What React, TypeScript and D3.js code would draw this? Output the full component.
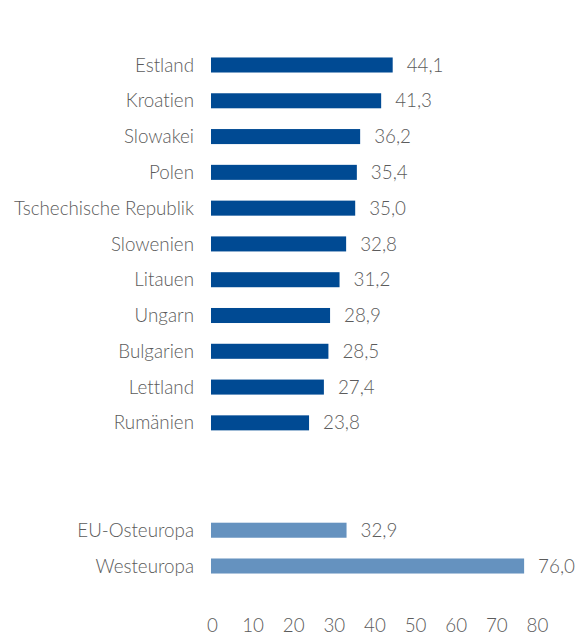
import React from "react";
import * as d3 from "d3";

const categories = [
  "Estland", "Kroatien", "Slowakei", "Polen", "Tschechische Republik", "Slowenien",
  "Litauen", "Ungarn", "Bulgarien", "Lettland", "Rumänien", "", " ", "EU-Osteuropa", "Westeuropa",
];
const values: (number | null)[] = [44.1, 41.3, 36.2, 35.4, 35.0, 32.8, 31.2, 28.9, 28.5, 27.4, 23.8, null, null, 32.9, 76.0];
const groups = ["c", "c", "c", "c", "c", "c", "c", "c", "c", "c", "c", "", "", "a", "a"];
const ticks = [0, 10, 20, 30, 40, 50, 60, 70, 80];

const W = 576, H = 635;
const FONT = "Lato, sans-serif";
const TEXT = "#5b5b5b";

export default function App() {
  const x = d3.scaleLinear().domain([0, 80]).range([211, 540.6]);
  const xAxis = d3.scaleLinear().domain([0, 80]).range([212.5, 537.5]);
  const y = d3.scaleBand().domain(categories).range([47.1, 583.9]).paddingInner(0.58).paddingOuter(0.29);
  const fmt = (v: number) => v.toFixed(1).replace(".", ",");
  return (
    <svg width={W} height={H} style={{ position: "absolute", left: 0, top: 0, background: "#fff", fontVariantLigatures: "none" }}
      fontFamily={FONT} fontWeight={300}>
      {categories.map((c, i) => {
        const v = values[i];
        if (v == null) return null;
        const yc = (y(c) as number) + y.bandwidth() / 2;
        return (
          <g key={c}>
            <rect x={x(0)} y={y(c)} width={x(v) - x(0)} height={y.bandwidth()}
              fill={groups[i] === "c" ? "#004a93" : "#6592bf"} />
            <text x={194} y={yc} dy="0.35em" textAnchor="end" fontSize={18.8} fill={TEXT}>{c}</text>
            <text x={x(v) + 14} y={yc} dy="0.35em" fontSize={18.8} fill={TEXT}>{fmt(v)}</text>
          </g>
        );
      })}
      {ticks.map((t) => (
        <text key={t} x={xAxis(t)} y={625} dy="0.35em" textAnchor="middle" fontSize={18.8} fill={TEXT}>{t}</text>
      ))}
    </svg>
  );
}
